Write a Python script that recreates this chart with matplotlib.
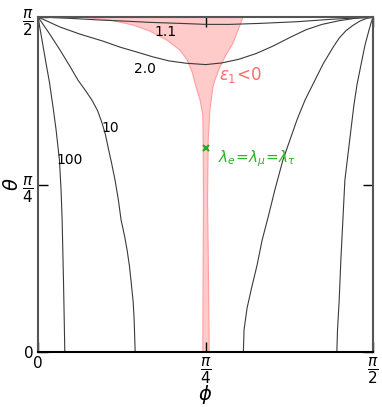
import matplotlib.pyplot as plt
import numpy as np

# contour curves, in units of pi/2: (phi, theta)
c100_left_phi = [0.0, 0.006, 0.012, 0.023, 0.034, 0.045, 0.054, 0.064, 0.069, 0.072, 0.076, 0.078, 0.080]
c100_left_th = [1.0, 0.965, 0.931, 0.867, 0.806, 0.730, 0.663, 0.573, 0.480, 0.394, 0.215, 0.110, 0.0]
c10_left_phi = [0.0, 0.033, 0.066, 0.094, 0.119, 0.142, 0.161, 0.178, 0.191, 0.201, 0.209,
                0.220, 0.230, 0.240, 0.248, 0.258, 0.266, 0.273, 0.278, 0.284, 0.287, 0.290]
c10_left_th = [1.0, 0.952, 0.901, 0.855, 0.812, 0.780, 0.752, 0.720, 0.684, 0.650, 0.612,
               0.562, 0.513, 0.453, 0.394, 0.348, 0.304, 0.256, 0.209, 0.150, 0.096, 0.0]
c2_phi = [0.0, 0.066, 0.125, 0.194, 0.245, 0.293, 0.343, 0.391, 0.442, 0.501,
          0.549, 0.600, 0.651, 0.701, 0.752, 0.800, 0.848, 0.899, 0.946, 1.0]
c2_th = [1.0, 0.970, 0.949, 0.928, 0.910, 0.896, 0.881, 0.869, 0.862, 0.858,
         0.863, 0.874, 0.891, 0.913, 0.939, 0.962, 0.978, 0.989, 0.996, 1.0]
c11_phi = [0.0, 0.096, 0.185, 0.275, 0.334, 0.424, 0.501, 0.573, 0.663, 0.773, 0.872, 1.0]
c11_th = [1.0, 0.996, 0.991, 0.987, 0.984, 0.981, 0.978, 0.978, 0.981, 0.986, 0.993, 1.0]
c10_right_phi = [1.0, 0.981, 0.961, 0.940, 0.919, 0.899, 0.881, 0.851, 0.824, 0.797, 0.773, 0.752, 0.731,
                 0.707, 0.687, 0.669, 0.654, 0.636, 0.624, 0.615, 0.613]
c10_right_th = [1.0, 0.996, 0.988, 0.975, 0.959, 0.937, 0.910, 0.860, 0.806, 0.752, 0.693, 0.633, 0.573,
                0.484, 0.403, 0.334, 0.260, 0.185, 0.131, 0.066, 0.0]
c100_right_phi = [1.0, 0.994, 0.988, 0.976, 0.964, 0.952, 0.943, 0.934, 0.925, 0.916, 0.910,
                  0.904, 0.899, 0.894, 0.892]
c100_right_th = [1.0, 0.982, 0.961, 0.916, 0.857, 0.797, 0.737, 0.663, 0.588, 0.513, 0.394,
                 0.275, 0.155, 0.066, 0.0]

# eps1 < 0 region outline (left edge top->bottom, right edge bottom->top)
neg_left_phi = [0.125, 0.215, 0.284, 0.334, 0.385, 0.424, 0.445, 0.460, 0.472, 0.484, 0.492, 0.493, 0.494, 0.493, 0.492]
neg_left_th = [1.0, 0.991, 0.976, 0.958, 0.931, 0.901, 0.872, 0.836, 0.791, 0.752, 0.707, 0.633, 0.454, 0.275, 0.0]
neg_right_phi = [0.511, 0.509, 0.506, 0.508, 0.513, 0.522, 0.528, 0.543, 0.561, 0.582, 0.597, 0.612]
neg_right_th = [0.0, 0.215, 0.454, 0.633, 0.722, 0.791, 0.812, 0.851, 0.887, 0.922, 0.961, 1.0]

# democratic point, tan(theta) = sqrt(2)
demo_phi = np.pi / 4
demo_th = np.arctan(np.sqrt(2))

tick_pos = [0, np.pi / 4, np.pi / 2]
tick_lbl = ["0", r"$\dfrac{\pi}{4}$", r"$\dfrac{\pi}{2}$"]

h = np.pi / 2
fig = plt.figure(figsize=(3.82, 4.07), dpi=100, facecolor="w")
ax = fig.add_axes([0.0995, 0.1351, 0.8770, 0.8231])

# negative region
px = np.concatenate([neg_left_phi, neg_right_phi]) * h
py = np.concatenate([neg_left_th, neg_right_th]) * h
ax.fill(px, py, facecolor="#ffcaca", edgecolor="#ff9e9e", lw=0.8, zorder=1)

lc = "#3a3a3a"
for cx, cy in [(c100_left_phi, c100_left_th), (c10_left_phi, c10_left_th), (c2_phi, c2_th),
               (c11_phi, c11_th), (c10_right_phi, c10_right_th), (c100_right_phi, c100_right_th)]:
    ax.plot(np.array(cx) * h, np.array(cy) * h, color=lc, lw=0.8, zorder=2)

ax.plot(demo_phi, demo_th, "x", color="#22aa22", ms=5, mew=1.5, zorder=3)

# labels on the curves
ax.text(0.382 * h, 0.955 * h, "1.1", fontsize=10, ha="center", va="center")
ax.text(0.320 * h, 0.845 * h, "2.0", fontsize=10, ha="center", va="center")
ax.text(0.215 * h, 0.670 * h, "10", fontsize=10, ha="center", va="center")
ax.text(0.095 * h, 0.573 * h, "100", fontsize=10, ha="center", va="center")
ax.text(0.605 * h, 0.828 * h, r"$\epsilon_1\!<\!0$", fontsize=12, color="#ff6a6a",
        ha="center", va="center")
ax.text(0.655 * h, 0.578 * h, r"$\lambda_e\!=\!\lambda_\mu\!=\!\lambda_\tau$", fontsize=11,
        color="#2ab52a", ha="center", va="center")

ax.set_xlim(0, h)
ax.set_ylim(0, h)
ax.set_xticks(tick_pos)
ax.set_yticks(tick_pos)
ax.set_xticklabels(tick_lbl, fontsize=11)
ax.set_yticklabels(tick_lbl, fontsize=11)
ax.tick_params(direction="in", length=7, width=1, top=True, right=True, pad=3)
for s in ax.spines.values():
    s.set_linewidth(1.5)
    s.set_color("#555555")
ax.spines["bottom"].set_color("black")

ax.set_xlabel(r"$\phi$", fontsize=14)
ax.set_ylabel(r"$\theta$", fontsize=14)
ax.xaxis.set_label_coords(0.5, -0.128)
ax.yaxis.set_label_coords(-0.075, 0.5)
ax.xaxis.label.set_va("center")
ax.yaxis.label.set_va("center")

fig.savefig("out.png", dpi=100)
